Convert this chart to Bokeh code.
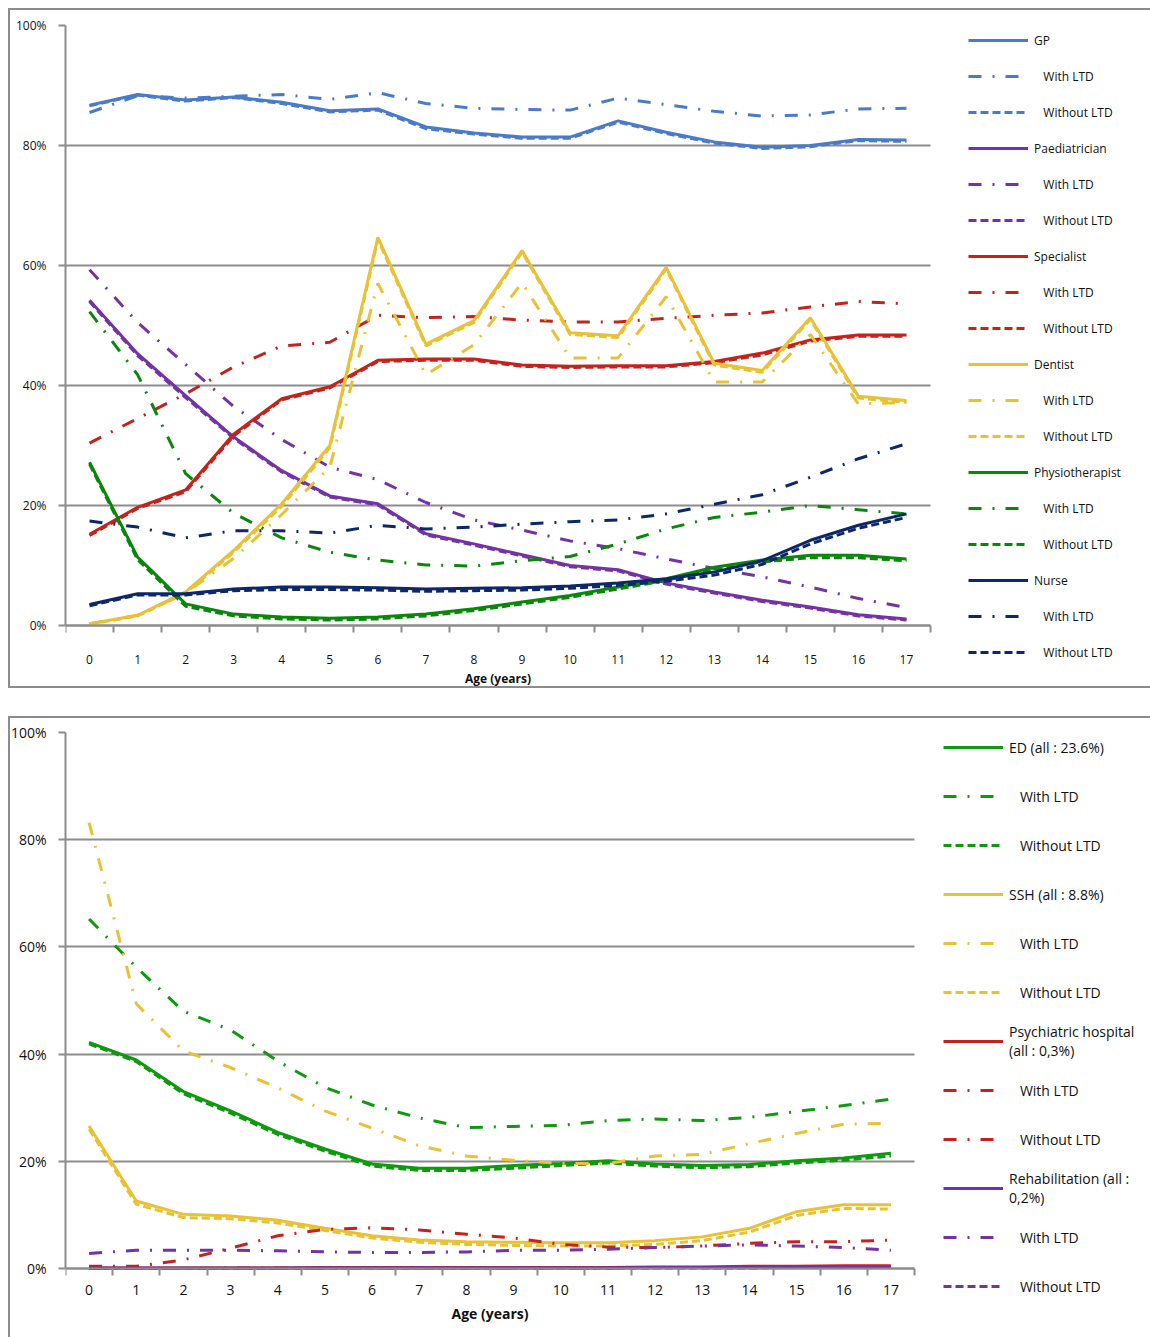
from bokeh.plotting import figure
from bokeh.models import Legend, LegendItem, FixedTicker, Range1d
from bokeh.layouts import column
from bokeh.embed import file_html
from bokeh.resources import INLINE

# ---------------- data ----------------
ages = [0, 1, 2, 3, 4, 5, 6, 7, 8, 9, 10, 11, 12, 13, 14, 15, 16, 17]
age_bounds = [-0.5, 0.5, 1.5, 2.5, 3.5, 4.5, 5.5, 6.5, 7.5, 8.5, 9.5, 10.5,
              11.5, 12.5, 13.5, 14.5, 15.5, 16.5, 17.5]
y_ticks = [0, 20, 40, 60, 80, 100]
y_labels = ["0%", "20%", "40%", "60%", "80%", "100%"]

# top chart (percent)
gp_all = [86.7, 88.5, 87.6, 88.1, 87.2, 85.8, 86.1, 83.1, 82.1, 81.4, 81.4, 84.1, 82.2, 80.6, 79.7, 80.0, 81.0, 80.9]
gp_with = [85.5, 88.3, 87.9, 88.2, 88.5, 87.7, 88.8, 87.0, 86.2, 86.0, 85.9, 87.9, 86.8, 85.7, 84.9, 85.1, 86.1, 86.2]
gp_without = [86.6, 88.4, 87.4, 88.0, 87.0, 85.6, 85.9, 82.8, 81.9, 81.2, 81.2, 83.9, 82.0, 80.4, 79.5, 79.8, 80.8, 80.7]

paed_all = [54.2, 45.3, 38.3, 31.4, 25.8, 21.6, 20.3, 15.3, 13.6, 11.8, 10.0, 9.3, 7.1, 5.6, 4.2, 3.1, 1.8, 1.1]
paed_with = [59.3, 50.5, 43.5, 36.5, 31.0, 26.4, 24.3, 20.5, 17.6, 15.9, 14.1, 12.8, 11.1, 9.5, 8.1, 6.4, 4.5, 3.0]
paed_without = [54.0, 45.0, 38.0, 31.2, 25.6, 21.4, 20.1, 15.1, 13.4, 11.6, 9.8, 9.1, 6.9, 5.4, 4.0, 2.9, 1.6, 0.9]

spec_all = [15.2, 19.7, 22.6, 31.9, 37.8, 39.8, 44.2, 44.4, 44.4, 43.4, 43.2, 43.3, 43.3, 44.0, 45.4, 47.6, 48.4, 48.4]
spec_with = [30.4, 34.5, 38.6, 43.1, 46.6, 47.2, 51.7, 51.3, 51.5, 50.9, 50.6, 50.6, 51.2, 51.7, 52.1, 53.1, 54.0, 53.6]
spec_without = [15.0, 19.5, 22.3, 31.6, 37.6, 39.6, 44.0, 44.2, 44.2, 43.2, 43.0, 43.1, 43.1, 43.8, 45.1, 47.4, 48.2, 48.2]

dent_all = [0.3, 1.7, 5.6, 12.5, 20.3, 30.0, 64.7, 46.9, 50.8, 62.5, 48.8, 48.3, 59.7, 43.7, 42.5, 51.3, 38.2, 37.5]
dent_with = [0.3, 1.7, 5.4, 11.2, 18.5, 26.4, 57.0, 41.8, 46.8, 57.1, 44.6, 44.6, 54.8, 40.6, 40.6, 48.5, 36.9, 37.2]
dent_without = [0.2, 1.6, 5.4, 12.2, 19.9, 29.6, 64.3, 46.6, 50.5, 62.2, 48.5, 48.0, 59.4, 43.4, 42.2, 51.0, 37.9, 37.2]

physio_all = [27.2, 11.4, 3.6, 1.9, 1.4, 1.2, 1.4, 1.9, 2.8, 3.9, 5.0, 6.4, 7.8, 9.7, 10.9, 11.7, 11.7, 11.1]
physio_with = [52.3, 41.8, 25.3, 18.7, 14.6, 12.2, 10.9, 10.1, 9.9, 10.8, 11.5, 13.6, 16.1, 18.0, 18.9, 20.0, 19.3, 18.6]
physio_without = [26.9, 11.0, 3.2, 1.6, 1.1, 0.9, 1.1, 1.6, 2.5, 3.6, 4.7, 6.1, 7.5, 9.4, 10.6, 11.3, 11.3, 10.8]

nurse_all = [3.5, 5.3, 5.3, 6.1, 6.4, 6.4, 6.3, 6.1, 6.2, 6.3, 6.6, 7.1, 7.8, 8.9, 10.8, 14.2, 16.7, 18.6]
nurse_with = [17.4, 16.4, 14.6, 15.8, 15.8, 15.4, 16.7, 16.1, 16.4, 16.9, 17.3, 17.6, 18.6, 20.2, 21.8, 24.7, 27.8, 30.3]
nurse_without = [3.3, 5.1, 5.1, 5.8, 6.0, 6.0, 5.9, 5.7, 5.8, 5.9, 6.2, 6.7, 7.4, 8.4, 10.2, 13.6, 16.2, 18.0]

# bottom chart (percent)
ed_all = [42.2, 38.9, 33.0, 29.4, 25.4, 22.3, 19.5, 18.7, 18.7, 19.2, 19.6, 20.1, 19.5, 19.2, 19.4, 20.1, 20.6, 21.5]
ed_with = [65.2, 56.2, 48.0, 44.5, 38.7, 33.8, 30.5, 28.1, 26.3, 26.5, 26.7, 27.6, 27.9, 27.6, 28.2, 29.3, 30.4, 31.6]
ed_without = [41.9, 38.6, 32.6, 29.0, 25.0, 21.9, 19.1, 18.3, 18.3, 18.7, 19.2, 19.7, 19.1, 18.8, 19.0, 19.7, 20.2, 21.0]

ssh_all = [26.6, 12.6, 10.1, 9.8, 9.0, 7.5, 6.1, 5.3, 5.0, 4.9, 4.8, 4.8, 5.2, 5.9, 7.5, 10.6, 11.9, 11.9]
ssh_with = [83.2, 49.4, 40.6, 37.5, 33.7, 29.4, 26.2, 22.9, 21.0, 20.2, 19.6, 19.6, 21.0, 21.3, 23.3, 25.2, 26.9, 27.1]
ssh_without = [26.0, 12.0, 9.5, 9.3, 8.5, 7.1, 5.7, 4.9, 4.5, 4.3, 4.2, 4.2, 4.5, 5.2, 6.8, 9.9, 11.2, 11.1]

psy_all = [0.1, 0.1, 0.1, 0.1, 0.1, 0.2, 0.2, 0.2, 0.2, 0.2, 0.2, 0.2, 0.3, 0.3, 0.4, 0.4, 0.5, 0.5]
psy_with = [0.4, 0.4, 1.6, 3.8, 6.1, 7.3, 7.6, 7.2, 6.4, 5.7, 4.5, 4.0, 3.9, 4.2, 4.7, 5.0, 5.0, 5.3]
psy_without = [0.0, 0.0, 0.0, 0.1, 0.1, 0.1, 0.1, 0.1, 0.1, 0.1, 0.1, 0.1, 0.2, 0.2, 0.2, 0.3, 0.3, 0.3]

rehab_all = [0.1, 0.1, 0.1, 0.1, 0.1, 0.1, 0.1, 0.1, 0.1, 0.1, 0.1, 0.1, 0.2, 0.2, 0.2, 0.2, 0.3, 0.3]
rehab_with = [2.8, 3.4, 3.4, 3.4, 3.3, 3.1, 3.0, 3.0, 3.1, 3.4, 3.4, 3.6, 3.9, 4.2, 4.4, 4.2, 3.9, 3.4]
rehab_without = [0.0, 0.0, 0.0, 0.0, 0.0, 0.1, 0.1, 0.1, 0.1, 0.1, 0.1, 0.1, 0.1, 0.1, 0.1, 0.2, 0.2, 0.2]

# ---------------- styling ----------------
FONT = "Open Sans"
GRID = "#8c8c8c"
WITH_DASH = "13 11 2 11"
WITHOUT_DASH = "8 4"
IND = "\u00a0\u00a0\u00a0"
W = 1150
LEFT = 65
X_SPAN = (age_bounds[0], age_bounds[-1])


def chart_box(h, top_y, bottom_y):
    g = "linear-gradient(#8c8c8c, #8c8c8c)"
    return {
        "background-image": ", ".join([g, g, g]),
        "background-size": f"2px {h - top_y}px, {W}px 2px, {W}px 2px",
        "background-position": f"8px {top_y}px, 8px {top_y}px, 8px {bottom_y}px",
        "background-repeat": "no-repeat",
    }


def make_fig(height, top, plot_w, plot_h, tick_fs, xlab_standoff, title_standoff, box):
    # The frame runs to the right and bottom edges so the legend drawn in it
    # is not clipped; the data area is plot_w x plot_h px at its top-left.
    frame_w = W - LEFT
    frame_h = height - top
    x_end = X_SPAN[0] + frame_w * (X_SPAN[1] - X_SPAN[0]) / plot_w
    y_start = 100.0 - frame_h * 100.0 / plot_h
    p = figure(width=W, height=height, output_backend="svg", toolbar_location=None,
               x_range=Range1d(X_SPAN[0], x_end), y_range=Range1d(y_start, 100),
               min_border_left=LEFT, min_border_right=0,
               min_border_top=top, min_border_bottom=0)
    p.outline_line_color = None
    p.background_fill_color = None
    p.border_fill_color = None
    p.xgrid.grid_line_color = None
    p.ygrid.ticker = FixedTicker(ticks=y_ticks)
    if "cross_bounds" in p.ygrid[0].properties():
        p.ygrid.cross_bounds = X_SPAN
        p.ygrid.grid_line_color = GRID
        p.ygrid.grid_line_width = 2
    else:
        p.ygrid.grid_line_color = None
        p.segment(x0=X_SPAN[0], x1=X_SPAN[1], y0=y_ticks[1:], y1=y_ticks[1:],
                  line_color=GRID, line_width=2, level="underlay")

    p.yaxis.ticker = FixedTicker(ticks=y_ticks)
    p.yaxis.bounds = (0, 100)
    p.yaxis.major_label_overrides = {t: l for t, l in zip(y_ticks, y_labels)}
    p.yaxis.axis_line_color = GRID
    p.yaxis.axis_line_width = 2
    p.yaxis.major_tick_line_color = GRID
    p.yaxis.major_tick_line_width = 2
    p.yaxis.major_tick_out = 7
    p.yaxis.major_tick_in = 0
    p.yaxis.minor_tick_line_color = None
    p.yaxis.major_label_standoff = 12
    p.yaxis.major_label_text_font = FONT
    p.yaxis.major_label_text_font_size = tick_fs
    p.yaxis.major_label_text_color = "#111111"

    p.xaxis.fixed_location = 0
    p.xaxis.bounds = X_SPAN
    p.xaxis.ticker = FixedTicker(ticks=ages, minor_ticks=age_bounds)
    p.xaxis.axis_line_color = GRID
    p.xaxis.axis_line_width = 2
    p.xaxis.major_tick_line_color = None
    p.xaxis.major_tick_out = 0
    p.xaxis.major_tick_in = 0
    p.xaxis.minor_tick_line_color = GRID
    p.xaxis.minor_tick_line_width = 2
    p.xaxis.minor_tick_out = 7
    p.xaxis.minor_tick_in = 0
    p.xaxis.major_label_standoff = xlab_standoff
    p.xaxis.major_label_text_font = FONT
    p.xaxis.major_label_text_font_size = tick_fs
    p.xaxis.major_label_text_color = "#111111"
    p.xaxis.axis_label = "Age (years)"
    p.xaxis.axis_label_text_font = FONT
    p.xaxis.axis_label_text_font_size = tick_fs
    p.xaxis.axis_label_text_font_style = "bold"
    p.xaxis.axis_label_text_color = "#111111"
    p.xaxis.axis_label_standoff = title_standoff
    p.styles = box
    return p


def add_series(p, groups, lw):
    items = []
    for name, c, all_v, with_v, without_v, without_dash in groups:
        r1 = p.line(ages, all_v, line_color=c, line_width=lw)
        r2 = p.line(ages, with_v, line_color=c, line_width=lw, line_dash=WITH_DASH)
        r3 = p.line(ages, without_v, line_color=c, line_width=lw, line_dash=without_dash)
        items.append(LegendItem(label=name, renderers=[r1]))
        items.append(LegendItem(label=IND + "With LTD", renderers=[r2]))
        items.append(LegendItem(label=IND + "Without LTD", renderers=[r3]))
    return items


def style_legend(lg, fs, gh, sp, baseline):
    lg.border_line_color = None
    lg.background_fill_alpha = 0
    lg.padding = 0
    lg.margin = 0
    lg.glyph_width = 60
    lg.glyph_height = gh
    lg.label_height = gh
    lg.label_standoff = 6
    lg.spacing = sp
    lg.label_text_font = FONT
    lg.label_text_font_size = fs
    lg.label_text_color = "#111111"
    lg.label_text_baseline = baseline


# ---------------- top chart ----------------
p1 = make_fig(688, 25, 865, 600, "12px", 22, 3, chart_box(688, 8, 686))
top_groups = [
    ("GP", "#4a7bc9", gp_all, gp_with, gp_without, WITHOUT_DASH),
    ("Paediatrician", "#7433a5", paed_all, paed_with, paed_without, WITHOUT_DASH),
    ("Specialist", "#c4231b", spec_all, spec_with, spec_without, WITHOUT_DASH),
    ("Dentist", "#e9c135", dent_all, dent_with, dent_without, WITHOUT_DASH),
    ("Physiotherapist", "#0a870a", physio_all, physio_with, physio_without, WITHOUT_DASH),
    ("Nurse", "#0c276a", nurse_all, nurse_with, nurse_without, WITHOUT_DASH),
]
items1 = add_series(p1, top_groups, 3)
lg1 = Legend(items=items1, location=(903, 26))
style_legend(lg1, "12px", 20, 16, "top")
p1.add_layout(lg1)

# ---------------- bottom chart ----------------
p2 = make_fig(621, 16, 849, 536, "14px", 9, 6, chart_box(621, 0, 700))
bottom_groups = [
    ("ED (all : 23.6%)", "#0d9a0d", ed_all, ed_with, ed_without, WITHOUT_DASH),
    ("SSH (all : 8.8%)", "#e9c135", ssh_all, ssh_with, ssh_without, WITHOUT_DASH),
    ("Psychiatric hospital\n(all : 0,3%)", "#c4231b", psy_all, psy_with, psy_without, WITH_DASH),
    ("Rehabilitation (all :\n0,2%)", "#7433a5", rehab_all, rehab_with, rehab_without, WITHOUT_DASH),
]
items2 = add_series(p2, bottom_groups, 3)
lg2 = Legend(items=items2, location=(878, 31))
style_legend(lg2, "14px", 40, 9, "middle")
p2.add_layout(lg2)

page = column(p1, p2, spacing=28)
open("out.html", "w").write(file_html(page, INLINE))
